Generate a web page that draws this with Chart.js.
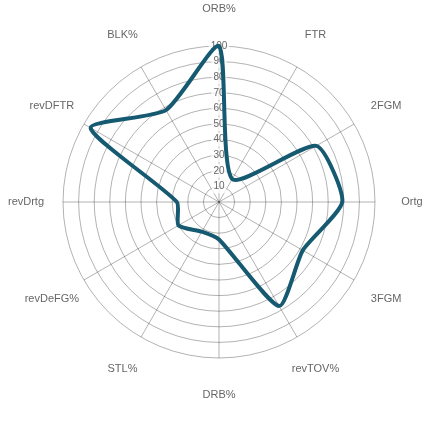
<!DOCTYPE html>
<html>
<head>
<meta charset="utf-8">
<script src="https://cdn.jsdelivr.net/npm/chart.js@4/dist/chart.umd.min.js"></script>
<style>
  html, body { margin: 0; padding: 0; background: #fff; }
  #wrap { width: 440px; height: 440px; }
</style>
</head>
<body>
<div id="wrap"><canvas id="radarChart"></canvas></div>
<script>
// Axis categories and team percentile values
const categories = ['ORB%', 'FTR', '2FGM', 'Ortg', '3FGM', 'revTOV%', 'DRB%', 'STL%', 'revDeFG%', 'revDrtg', 'revDFTR', 'BLK%'];
const percentiles = [100, 17, 72, 79, 62, 77, 24, 22, 30, 27, 95, 68];
const tickValues = [0, 5, 10, 15, 20, 25, 30, 35, 40, 45, 50, 55, 60, 65, 70, 75, 80, 85, 90, 95, 100];

Chart.defaults.font.family = '"Liberation Sans", Arial, Helvetica, sans-serif';
Chart.defaults.color = '#666';

// Category labels centred on a ring outside the grid
const centeredLabels = {
    id: 'centeredLabels',
    afterDraw(chart) {
        const scale = chart.scales.r;
        const c = chart.ctx;
        c.save();
        c.font = '11px "Liberation Sans", Arial, sans-serif';
        c.fillStyle = '#666';
        c.textAlign = 'center';
        c.textBaseline = 'middle';
        chart.data.labels.forEach((label, i) => {
            const pos = scale.getPointPosition(i, scale.drawingArea + 37);
            c.fillText(label, pos.x, pos.y);
        });
        c.restore();
    }
};

const ctx = document.getElementById('radarChart').getContext('2d');
new Chart(ctx, {
    type: 'radar',
    data: {
        labels: categories,
        datasets: [{
            data: percentiles,
            borderColor: '#165a72',
            borderWidth: 4,
            backgroundColor: 'rgba(0,0,0,0)',
            fill: false,
            pointRadius: 0,
            pointHoverRadius: 0,
            tension: 0.2
        }]
    },
    options: {
        responsive: true,
        maintainAspectRatio: false,
        animation: false,
        layout: { padding: { top: 39, bottom: 74, left: 56, right: 57 } },
        plugins: {
            legend: { display: false },
            tooltip: { enabled: false }
        },
        scales: {
            r: {
                min: tickValues[0],
                max: tickValues[tickValues.length - 1],
                // a ring for every tick value, not the auto-thinned set
                afterBuildTicks: (scale) => {
                    scale.ticks = tickValues.map(v => ({ value: v }));
                },
                ticks: {
                    font: { size: 10 },
                    color: '#666',
                    backdropColor: 'rgba(255,255,255,0.75)'
                },
                grid: { circular: true, color: 'rgba(0,0,0,0.3)' },
                angleLines: { color: 'rgba(0,0,0,0.3)' },
                pointLabels: { display: false }
            }
        }
    },
    plugins: [centeredLabels]
});
</script>
</body>
</html>
